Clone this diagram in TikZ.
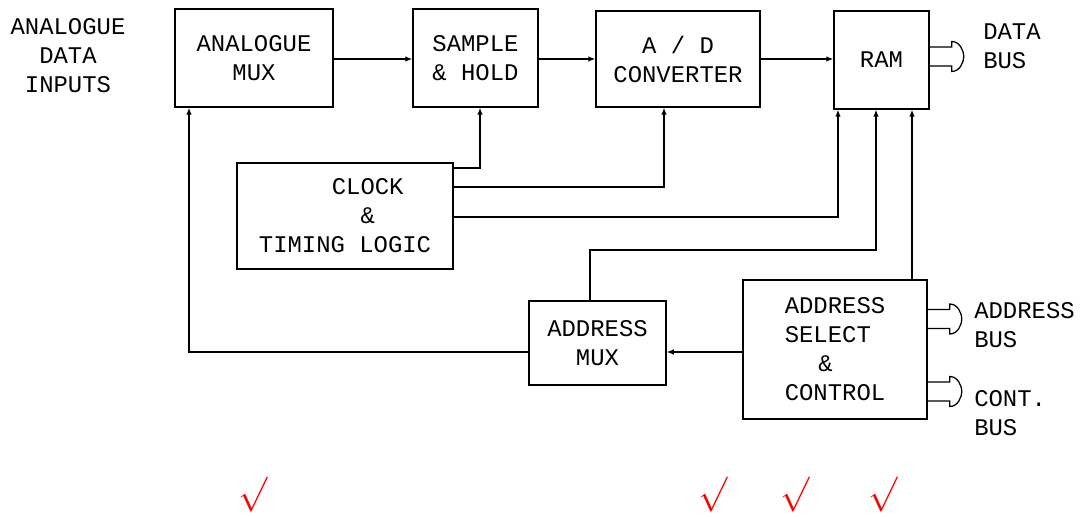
\documentclass[tikz,border=0pt]{standalone}
\usepackage{fontspec}
\setmainfont{Liberation Mono}
\usetikzlibrary{arrows.meta}

\tikzset{
  blk/.style={draw, line width=1pt, align=center, inner sep=0pt},
  sig/.style={line width=0.9pt, -{Latex[length=5pt,width=4pt]}},
  lbl/.style={align=left, inner sep=0pt, anchor=west},
  tick/.style={text=red, font=\fontsize{24}{24}\selectfont},
  bus/.pic={\draw[line width=0.9pt] (0,-9.5) -- (22,-9.5) -- (22,-15)
      .. controls (30,-15) and (34,-6) .. (34,0)
      .. controls (34,6) and (30,15) .. (22,15) -- (22,9.5) -- (0,9.5);},
}

\begin{document}
\begin{tikzpicture}[x=0.025cm, y=-0.025cm,
  every node/.style={font=\fontsize{17}{20.6}\selectfont}]
  \useasboundingbox (0,0) rectangle (1085,518);

  % inputs
  \node[align=center, inner sep=0pt] (inp) at (68,56) {ANALOGUE\\DATA\\INPUTS};

  % top row
  \node[blk, minimum width=3.95cm, minimum height=2.45cm] (amux) at (254,58) {ANALOGUE\\MUX};
  \node[blk, minimum width=3.125cm, minimum height=2.45cm] (snh) at (475.5,58) {SAMPLE\\\& HOLD};
  \node[blk, minimum width=4.1cm, minimum height=2.4cm] (adc) at (678,59) {A / D\\CONVERTER};
  \node[blk, minimum width=2.375cm, minimum height=2.45cm] (ram) at (881.5,60) {RAM};

  % clock
  \node[blk, minimum width=5.4cm, minimum height=2.65cm] (clk) at (345,216)
    {\hspace*{1.9em}CLOCK\\\hspace*{1.9em}\&\\TIMING LOGIC};

  % address part
  \node[blk, minimum width=3.425cm, minimum height=2.1cm] (amx) at (597.5,343) {ADDRESS\\MUX};
  \node[blk, align=left, minimum width=4.6cm, minimum height=3.475cm] (asel) at (835,349.5)
    {ADDRESS\\SELECT\\\hspace*{1.4em}\&\\CONTROL};

  % data path
  \draw[sig] (amux.east |- 0,59) -- (snh.west |- 0,59);
  \draw[sig] (snh.east |- 0,59) -- (adc.west |- 0,59);
  \draw[sig] (adc.east |- 0,59) -- (ram.west |- 0,59);

  % timing lines
  \draw[sig] (clk.east |- 0,168) -| (snh.south -| 480,0);
  \draw[sig] (clk.east |- 0,187) -| (adc.south -| 664,0);
  \draw[sig] (clk.east |- 0,217) -| (ram.south -| 838,0);

  % address lines
  \draw[sig] (amx.north -| 590,0) |- (876,250) -- (ram.south -| 876,0);
  \draw[sig] (asel.north -| 912,0) -- (ram.south -| 912,0);
  \draw[sig] (asel.west |- 0,352) -- (amx.east |- 0,352);
  \draw[sig] (amx.west |- 0,352) -| (amux.south -| 189,0);

  % buses
  \pic at (ram.east |- 0,56.5) {bus};
  \pic at (asel.east |- 0,319) {bus};
  \pic at (asel.east |- 0,391.5) {bus};
  \node[lbl] (dbus) at (983,46.5) {DATA\\BUS};
  \node[lbl] (abus) at (974,325) {ADDRESS\\BUS};
  \node[lbl] (cbus) at (974,413) {CONT.\\BUS};

  % marks
  \foreach \x [count=\i] in {253,713,795,883}
    \node[tick] (ok\i) at (\x,495) {$\surd$};
\end{tikzpicture}
\end{document}
